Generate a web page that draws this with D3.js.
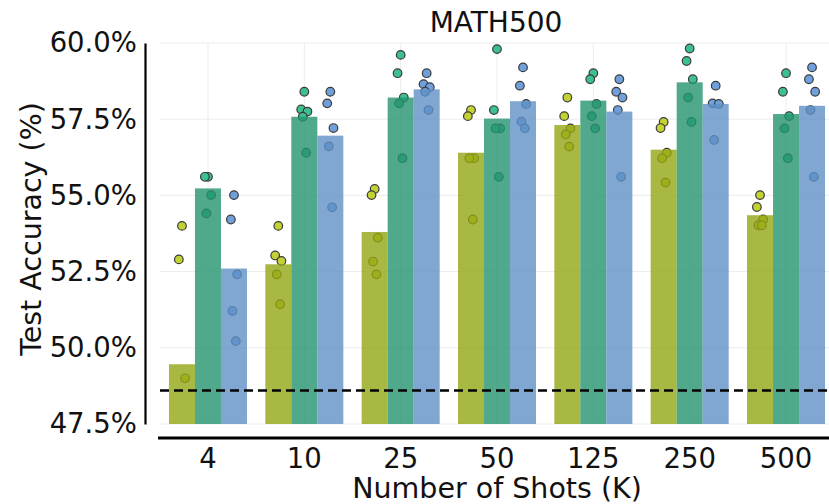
<!DOCTYPE html>
<html>
<head>
<meta charset="utf-8">
<script src="https://cdn.jsdelivr.net/npm/d3@7"></script>
<style>
  body { margin: 0; background: #fff; }
  text { font-family: "DejaVu Sans", sans-serif; fill: #111; }
</style>
</head>
<body>
<div id="chart"></div>
<script>
// Chart data
var shots = ["4", "10", "25", "50", "125", "250", "500"];
var seriesNames = ["olive", "teal", "blue"];
var baseline = 48.6;

// bar heights (mean accuracy, %)
var barOlive = [49.46, 52.74, 53.80, 56.40, 57.31, 56.50, 54.35];
var barTeal  = [55.23, 57.58, 58.21, 57.52, 58.11, 58.71, 57.67];
var barBlue  = [52.60, 56.96, 58.48, 58.09, 57.75, 58.00, 57.94];

// individual runs (dots)
var dotsOlive = [
  [54.0, 52.9, 49.0],
  [54.0, 53.03, 52.85, 52.41, 51.43],
  [55.21, 55.01, 53.61, 52.83, 52.41],
  [57.8, 57.6, 56.22, 56.22, 54.21],
  [58.21, 57.6, 57.2, 57.0, 56.6],
  [57.41, 57.21, 56.4, 56.22, 55.42],
  [55.01, 54.62, 54.21, 54.02, 54.02]
];
var dotsTeal = [
  [55.61, 55.61, 55.01, 54.41],
  [58.4, 57.82, 57.75, 57.58, 56.4],
  [59.61, 59.01, 58.21, 58.02, 56.22],
  [59.8, 57.8, 57.2, 57.2, 55.61],
  [59.01, 58.81, 58.0, 57.6, 57.2],
  [59.82, 59.41, 58.81, 58.21, 57.41],
  [59.01, 58.4, 57.6, 57.2, 56.22]
];
var dotsBlue = [
  [55.01, 54.21, 52.41, 51.21, 50.22],
  [58.4, 58.02, 57.21, 56.61, 54.61],
  [59.01, 58.65, 58.55, 58.4, 57.8],
  [59.2, 58.6, 58.0, 57.42, 57.2],
  [58.81, 58.4, 58.21, 57.8, 55.61],
  [58.6, 58.02, 58.0, 56.82],
  [59.2, 58.81, 58.4, 57.8, 55.61]
];
var yTicks = [47.5, 50.0, 52.5, 55.0, 57.5, 60.0];

var barColors = {olive: "#94a614", teal: "#26946f", blue: "#5f91c7"};
var dotColors = {olive: "#c3d132", teal: "#3dbf8e", blue: "#6fa0dc"};

var svgWidth = 829;
var svgHeight = 504;

var svg = d3.select("#chart")
  .append("svg")
  .attr("width", svgWidth)
  .attr("height", svgHeight);

// scales
var x = d3.scaleBand()
  .domain(shots)
  .range([160, 834])
  .paddingInner(0.19)
  .paddingOuter(0.093);

var xSub = d3.scaleBand()
  .domain(seriesNames)
  .range([0, x.bandwidth()]);

var y = d3.scaleLinear()
  .domain([47.5, 60])
  .range([424, 43]);

// gridlines
var grid = svg.append("g");
grid.selectAll("line.h")
  .data(yTicks)
  .enter()
  .append("line")
  .attr("x1", 160)
  .attr("x2", svgWidth)
  .attr("y1", d => y(d))
  .attr("y2", d => y(d))
  .attr("stroke", "#ececec")
  .attr("stroke-width", 1);

grid.selectAll("line.v")
  .data(shots)
  .enter()
  .append("line")
  .attr("x1", d => x(d) + x.bandwidth() / 2)
  .attr("x2", d => x(d) + x.bandwidth() / 2)
  .attr("y1", y(60))
  .attr("y2", y(47.5))
  .attr("stroke", "#ececec")
  .attr("stroke-width", 1);

// dots go under the bars
var dotRows = [];
var dotSets = {olive: dotsOlive, teal: dotsTeal, blue: dotsBlue};
var jitter = [0, -0.12, 0.12, -0.06, 0.07];
seriesNames.forEach(function(s) {
  dotSets[s].forEach(function(vals, gi) {
    vals.forEach(function(v, i) {
      dotRows.push({series: s, shot: shots[gi], value: v, j: jitter[i % jitter.length]});
    });
  });
});

svg.append("g")
  .selectAll("circle")
  .data(dotRows)
  .enter()
  .append("circle")
  .attr("cx", d => x(d.shot) + xSub(d.series) + xSub.bandwidth() / 2 + d.j * xSub.bandwidth())
  .attr("cy", d => y(d.value))
  .attr("r", 4.3)
  .attr("fill", d => dotColors[d.series])
  .attr("stroke", "#3b3b3b")
  .attr("stroke-width", 1.2);

// bars
var barRows = [];
var barSets = {olive: barOlive, teal: barTeal, blue: barBlue};
seriesNames.forEach(function(s) {
  barSets[s].forEach(function(v, gi) {
    barRows.push({series: s, shot: shots[gi], value: v});
  });
});

svg.append("g")
  .selectAll("rect")
  .data(barRows)
  .enter()
  .append("rect")
  .attr("x", d => x(d.shot) + xSub(d.series))
  .attr("width", xSub.bandwidth())
  .attr("y", d => y(d.value))
  .attr("height", d => y(47.5) - y(d.value))
  .attr("fill", d => barColors[d.series])
  .attr("opacity", 0.8);

// baseline dashed line
svg.append("line")
  .attr("x1", 160)
  .attr("x2", svgWidth)
  .attr("y1", y(baseline))
  .attr("y2", y(baseline))
  .attr("stroke", "#000")
  .attr("stroke-width", 2.5)
  .attr("stroke-dasharray", "9,5");

// y axis
var yAxis = svg.append("g")
  .attr("transform", "translate(145,0)")
  .call(d3.axisLeft(y).tickValues(yTicks).tickSize(0).tickPadding(8)
    .tickFormat(d => d3.format(".1f")(d) + "%"));
yAxis.select(".domain").attr("stroke", "#000").attr("stroke-width", 2.2);
yAxis.selectAll("text").attr("font-size", "27.5px").attr("font-family", "DejaVu Sans").attr("fill", "#111");

// x axis
var xAxis = svg.append("g")
  .attr("transform", "translate(0,438)")
  .call(d3.axisBottom(x).tickSize(0).tickPadding(10));
xAxis.select(".domain").remove();
xAxis.append("line")
  .attr("x1", 158).attr("x2", svgWidth)
  .attr("y1", 0).attr("y2", 0)
  .attr("stroke", "#000").attr("stroke-width", 3);
xAxis.selectAll("text").attr("font-size", "27.5px").attr("font-family", "DejaVu Sans").attr("fill", "#111");

// labels
svg.append("text")
  .attr("x", 496)
  .attr("y", 24)
  .attr("text-anchor", "middle")
  .attr("dominant-baseline", "middle")
  .attr("font-size", "28px")
  .text("MATH500");

svg.append("text")
  .attr("x", 497)
  .attr("y", 490)
  .attr("text-anchor", "middle")
  .attr("dominant-baseline", "middle")
  .attr("font-size", "28.5px")
  .text("Number of Shots (K)");

svg.append("text")
  .attr("transform", "translate(33,229) rotate(-90)")
  .attr("text-anchor", "middle")
  .attr("dominant-baseline", "middle")
  .attr("font-size", "28.5px")
  .text("Test Accuracy (%)");
</script>
</body>
</html>
